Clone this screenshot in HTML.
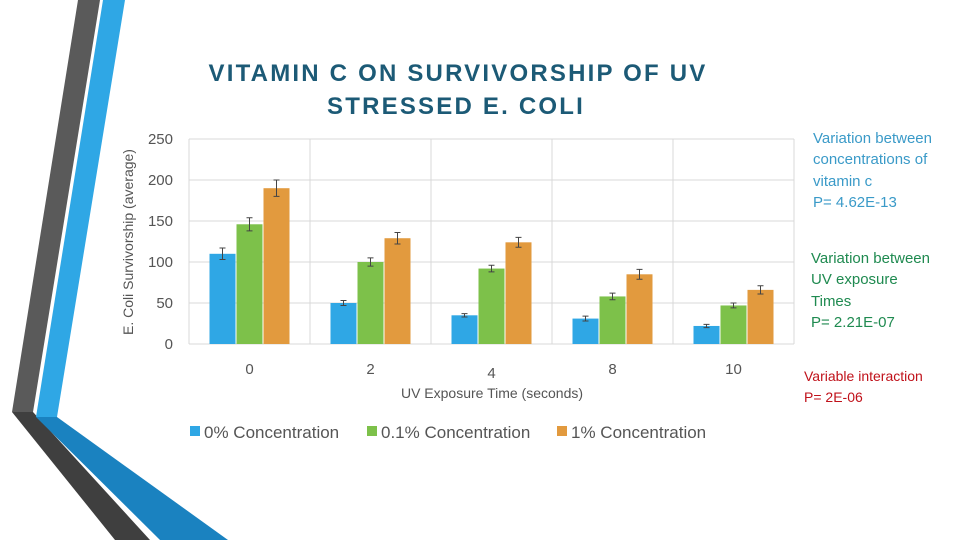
<!DOCTYPE html>
<html><head><meta charset="utf-8"><style>
body{margin:0;width:960px;height:540px;overflow:hidden;background:#fff;font-family:"Liberation Sans",sans-serif;}
svg{display:block}
</style></head><body>
<svg width="960" height="540" viewBox="0 0 960 540">
<g>
<polygon points="78,0 100,0 33,412 12,412" fill="#5a5a5a"/>
<polygon points="12,412 33,412 150,540 115,540" fill="#3f3f3f"/>
<polygon points="103,0 125,0 57,417 36,417" fill="#2fa7e5"/>
<polygon points="36,417 57,417 228,540 160,540" fill="#1a82c0"/>
</g>
<g font-weight="bold" font-size="24" fill="#1c5a76" text-anchor="middle" letter-spacing="2.2">
<text x="458" y="81">VITAMIN C ON SURVIVORSHIP OF UV</text>
<text x="456" y="114">STRESSED E. COLI</text>
</g>
<text transform="translate(133,242) rotate(-90)" text-anchor="middle" font-size="14" fill="#555">E. Coli Survivorship (average)</text>
<g id="grid"></g>
<g id="bars"></g>
<text x="492" y="398" text-anchor="middle" font-size="14" fill="#555">UV Exposure Time (seconds)</text>
<g font-size="17" fill="#555">
<rect x="190" y="426" width="10" height="10" fill="#2fa7e5"/>
<text x="204" y="438">0% Concentration</text>
<rect x="367" y="426" width="10" height="10" fill="#7dc14a"/>
<text x="381" y="438">0.1% Concentration</text>
<rect x="557" y="426" width="10" height="10" fill="#e29a3e"/>
<text x="571" y="438">1% Concentration</text>
</g>
<g font-size="15">
<text fill="#3a9ac8"><tspan x="813" y="143">Variation between</tspan><tspan x="813" y="164">concentrations of</tspan><tspan x="813" y="186">vitamin c</tspan><tspan x="813" y="207">P= 4.62E-13</tspan></text>
<text fill="#1f8a50"><tspan x="811" y="263">Variation between</tspan><tspan x="811" y="284">UV exposure</tspan><tspan x="811" y="306">Times</tspan><tspan x="811" y="327">P= 2.21E-07</tspan></text>
<text fill="#c0111a" font-size="14"><tspan x="804" y="381">Variable interaction</tspan><tspan x="804" y="402">P= 2E-06</tspan></text>
</g>
</svg>
<script>
const categories=["0","2","4","8","10"];
const yTicks=[0,50,100,150,200,250];
const s0=[110,50,35,31,22];
const s1=[146,100,92,58,47];
const s2=[190,129,124,85,66];
const e0=[7,3,2,3,2];
const e1=[8,5,4,4,3];
const e2=[10,7,6,6,5];
const NS="http://www.w3.org/2000/svg";
const L=189,R=794,T=139,B=344,YMAX=250;
const cw=(R-L)/categories.length;
const y=v=>B-(v/YMAX)*(B-T);
const xc=i=>L+cw*(i+0.5);
function mk(tag,attrs,parent){const e=document.createElementNS(NS,tag);for(const k in attrs)e.setAttribute(k,attrs[k]);parent.appendChild(e);return e;}
const grid=document.getElementById('grid'),bars=document.getElementById('bars');
yTicks.forEach(t=>{
 const l=mk('line',{x1:L,x2:R,y1:y(t),y2:y(t),stroke:'#d9d9d9','stroke-width':1},grid);
 
 
 const tx=mk('text',{x:173,y:y(t)+5,'text-anchor':'end','font-size':15,fill:'#555'},grid);
 tx.textContent=t;
 
 
});
for(let i=0;i<=categories.length;i++){
 const l=mk('line',{x1:L+cw*i,x2:L+cw*i,y1:T,y2:B,stroke:'#d9d9d9','stroke-width':1},grid);
 
 
}
const series=[[s0,e0,'#2fa7e5','0pct'],[s1,e1,'#7dc14a','01pct'],[s2,e2,'#e29a3e','1pct']];
const bw=26;
categories.forEach((c,i)=>{
 series.forEach((s,j)=>{
  const v=s[0][i],er=s[1][i];
  const x=xc(i)+(j-1)*(bw+1)-bw/2;
  const r=mk('rect',{x:x,y:y(v),width:bw,height:B-y(v),fill:s[2]},bars);
  
  
  const cx=x+bw/2;
  const g=mk('path',{d:`M${cx},${y(v+er)}V${y(v-er)}M${cx-3},${y(v+er)}H${cx+3}M${cx-3},${y(v-er)}H${cx+3}`,stroke:'#444','stroke-width':1,fill:'none'},bars);
  
  
 });
 const t=mk('text',{x:xc(i),y:(c==="4"?378:374),'text-anchor':'middle','font-size':15,fill:'#555'},bars);
 t.textContent=c;
 
 
});
</script>
</body></html>
